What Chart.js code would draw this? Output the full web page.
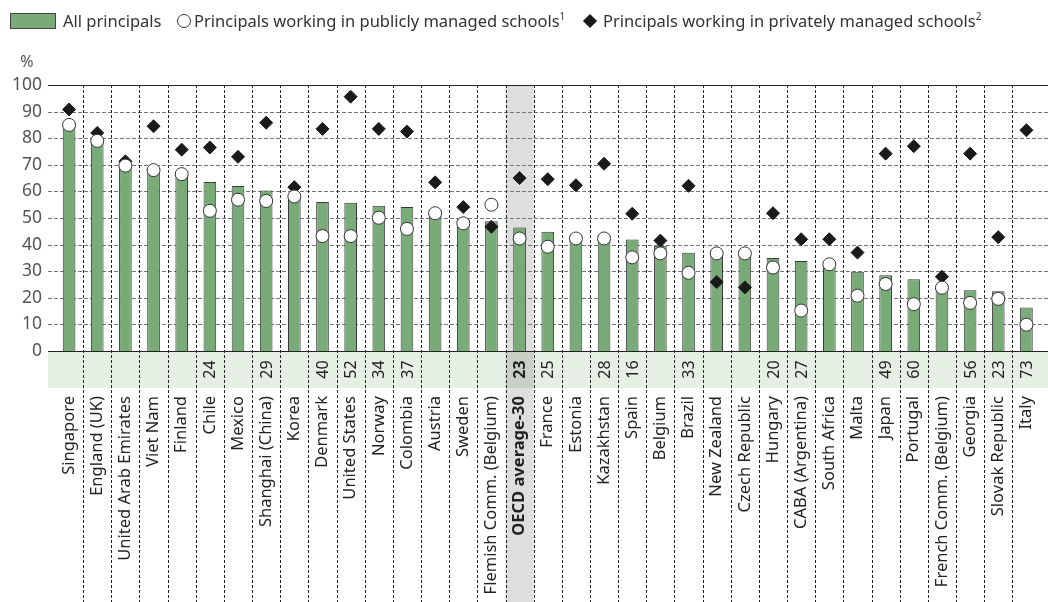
<!DOCTYPE html>
<html>
<head>
<meta charset="utf-8">
<script src="https://cdn.jsdelivr.net/npm/chart.js@4.4.0/dist/chart.umd.min.js"></script>
<style>
  body { margin: 0; background: #fff; font-family: "Noto Sans", sans-serif; }
  #wrap { position: relative; width: 1048px; height: 602px; }
  #grafico { position: absolute; left: 0; top: 0; }
  .leg { position: absolute; top: 9px; font-size: 16.5px; color: #333; line-height: 24px; white-space: nowrap; }
  .leg sup { font-size: 10px; vertical-align: 7px; line-height: 0; }
  .caixa { position: absolute; left: 10px; top: 13px; width: 44px; height: 14px; background: #78ab78; border: 1px solid #444; }
  .circulo { position: absolute; left: 177px; top: 14px; width: 12px; height: 12px; border: 1px solid #333; border-radius: 50%; background: #fff; }
  .losango { position: absolute; left: 585px; top: 16px; width: 10px; height: 10px; background: #1a1a1a; transform: rotate(45deg); }
</style>
</head>
<body>
<div id="wrap">
  <canvas id="grafico" width="1048" height="602"></canvas>
  <div class="caixa"></div>
  <div class="leg" style="left:63px">All principals</div>
  <div class="circulo"></div>
  <div class="leg" style="left:194px">Principals working in publicly managed schools<sup>1</sup></div>
  <div class="losango"></div>
  <div class="leg" style="left:603px">Principals working in privately managed schools<sup>2</sup></div>
</div>
<script>
const categories = [
  "Singapore", "England (UK)", "United Arab Emirates", "Viet Nam", "Finland", "Chile", "Mexico",
  "Shanghai (China)", "Korea", "Denmark", "United States", "Norway", "Colombia", "Austria", "Sweden",
  "Flemish Comm. (Belgium)", "OECD average-30", "France", "Estonia", "Kazakhstan", "Spain", "Belgium",
  "Brazil", "New Zealand", "Czech Republic", "Hungary", "CABA (Argentina)", "South Africa", "Malta",
  "Japan", "Portugal", "French Comm. (Belgium)", "Georgia", "Slovak Republic", "Italy"
];
const allPrincipals = [
  85, 80, 70, 69, 67.5, 63.5, 62, 60.3, 58.5, 56, 55.7, 54.6, 54.1, 53.2, 49.5,
  48.8, 46.4, 44.8, 43, 43, 41.9, 39.6, 36.9, 36.8, 36.7, 35, 33.8, 33, 29.8,
  28.5, 27, 24.5, 22.8, 22.5, 16.4
];
const publicSchools = [
  85, 79, 69.7, 68, 66.5, 52.7, 56.9, 56.4, 58.1, 43.2, 43.2, 50.1, 45.9, 51.8, 48,
  55, 42.3, 39.2, 42.3, 42.3, 35.2, 36.7, 29.4, 36.7, 36.7, 31.4, 15.2, 32.6, 20.8,
  25.2, 17.6, 23.8, 18.1, 19.6, 9.9
];
const privateSchools = [
  90.8, 82, 71.3, 84.5, 75.7, 76.5, 73, 85.8, 61.6, 83.5, 95.6, 83.5, 82.5, 63.4, 54.1,
  46.7, 65, 64.6, 62.3, 70.4, 51.6, 41.5, 62.1, 25.9, 23.9, 51.8, 42, 42, 37,
  74.2, 77, 27.9, 74.2, 42.8, 83
];
// linha de numeros abaixo do eixo
const privateShare = [
  "", "", "", "", "", "24", "", "29", "", "40", "52", "34", "37", "", "",
  "", "23", "25", "", "28", "16", "", "33", "", "", "20", "27", "", "",
  "49", "60", "", "56", "23", "73"
];
const yTicks = [0, 10, 20, 30, 40, 50, 60, 70, 80, 90, 100];

const oecdIndex = categories.indexOf("OECD average-30");

// Desenha faixas, grades e textos extras
const fundo = {
  id: "fundo",
  beforeDraw(chart) {
    const c = chart.ctx;
    const area = chart.chartArea;
    const x = chart.scales.x;
    const y = chart.scales.y;
    const left = 48, right = 1048;
    const step = (area.right - area.left) / categories.length;
    const y0 = y.getPixelForValue(0);
    c.save();
    c.fillStyle = "#e6efe3";
    c.fillRect(left, y0, right - left, 37);
    const cx = x.getPixelForValue(oecdIndex);
    c.fillStyle = "rgba(0,0,0,0.13)";
    c.fillRect(cx - step / 2, area.top, step, chart.height - area.top);

    yTicks.forEach((v) => {
      const py = Math.round(y.getPixelForValue(v)) + 0.5;
      c.beginPath();
      if (v === 0 || v === 100) {
        c.setLineDash([]);
        c.strokeStyle = "#222";
      } else {
        c.setLineDash([4, 2]);
        c.strokeStyle = "#777";
      }
      c.lineWidth = 1.2;
      c.moveTo(left, py);
      c.lineTo(right, py);
      c.stroke();
    });

    c.setLineDash([3, 2]);
    c.strokeStyle = "#222";
    c.lineWidth = 1;
    for (let i = 1; i < categories.length; i++) {
      const px = Math.round(area.left + i * step) + 0.5;
      c.beginPath();
      c.moveTo(px, area.top);
      c.lineTo(px, chart.height);
      c.stroke();
    }
    c.restore();
  },
  afterDraw(chart) {
    const c = chart.ctx;
    const x = chart.scales.x;
    const y0 = chart.scales.y.getPixelForValue(0);
    c.save();
    c.fillStyle = "#222";
    c.textAlign = "center";
    c.textBaseline = "middle";
    privateShare.forEach((txt, i) => {
      if (!txt) return;
      c.save();
      c.translate(x.getPixelForValue(i), y0 + 18.5);
      c.rotate(-Math.PI / 2);
      c.font = (i === oecdIndex ? "bold " : "") + "16px 'Noto Sans'";
      c.fillText(txt, 0, 1);
      c.restore();
    });
    c.fillStyle = "#555";
    c.font = "16px 'Noto Sans'";
    c.fillText("%", 27, 62);
    c.restore();
  },
};

new Chart(document.getElementById("grafico"), {
  data: {
    labels: categories,
    datasets: [
      {
        type: "line",
        label: "Principals working in publicly managed schools",
        data: publicSchools,
        showLine: false,
        pointStyle: "circle",
        pointRadius: 6.5,
        pointBackgroundColor: "#fff",
        pointBorderColor: "#333",
        pointBorderWidth: 1,
        order: 1,
      },
      {
        type: "line",
        label: "Principals working in privately managed schools",
        data: privateSchools,
        showLine: false,
        pointStyle: "rectRot",
        pointRadius: 6.5,
        pointBackgroundColor: "#1a1a1a",
        pointBorderColor: "#1a1a1a",
        pointBorderWidth: 1,
        order: 2,
      },
      {
        type: "bar",
        label: "All principals",
        data: allPrincipals,
        backgroundColor: "#78ab78",
        borderColor: "#3a3a3a",
        borderWidth: 1,
        barPercentage: 0.45,
        categoryPercentage: 1,
        order: 3,
      },
    ],
  },
  options: {
    responsive: false,
    animation: false,
    layout: { padding: { top: 85, right: 3.5 } },
    plugins: { legend: { display: false }, tooltip: { enabled: false } },
    scales: {
      x: {
        offset: true,
        grid: { display: false, drawTicks: false },
        border: { display: false },
        afterFit: (s) => {
          s.height = 251;
          s.paddingLeft = 0;
          s.paddingRight = 0;
        },
        ticks: {
          autoSkip: false,
          maxRotation: 90,
          minRotation: 90,
          padding: 45,
          color: "#222",
          font: (ctx) => ({
            family: "'Noto Sans'",
            size: 16.5,
            weight: ctx.index === oecdIndex ? "bold" : "normal",
          }),
        },
      },
      y: {
        min: 0,
        max: 100,
        grid: { display: false, drawTicks: false },
        border: { display: false },
        afterFit: (s) => {
          s.width = 55;
          s.paddingTop = 0;
          s.paddingBottom = 0;
        },
        ticks: {
          stepSize: 10,
          padding: 13,
          color: "#555",
          font: { family: "'Noto Sans'", size: 17.5 },
        },
      },
    },
  },
  plugins: [fundo],
});
</script>
</body>
</html>
